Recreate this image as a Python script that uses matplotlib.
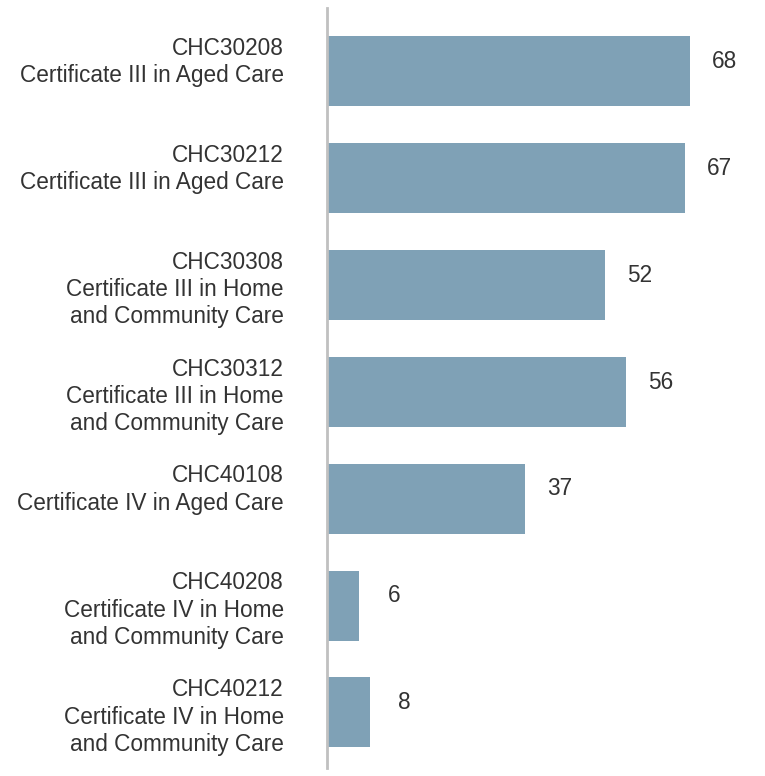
import matplotlib
matplotlib.use("Agg")
import matplotlib.pyplot as plt

plt.rcParams['font.family'] = ['Liberation Sans', 'DejaVu Sans']

codes = ['CHC30208', 'CHC30212', 'CHC30308', 'CHC30312', 'CHC40108', 'CHC40208', 'CHC40212']
names = ['Certificate III in Aged Care',
         'Certificate III in Aged Care',
         'Certificate III in Home\nand Community Care',
         'Certificate III in Home\nand Community Care',
         'Certificate IV in Aged Care',
         'Certificate IV in Home\nand Community Care',
         'Certificate IV in Home\nand Community Care']
values = [68, 67, 52, 56, 37, 6, 8]

# two-line labels sit as if they had an empty third line
labels = []
for c, n in zip(codes, names):
    lab = c + '\n' + n
    if '\n' not in n:
        lab += '\n '
    labels.append(lab)
pos = list(range(len(values)))

fig = plt.figure(figsize=(7.65, 7.76), dpi=100)
ax = fig.add_axes([327 / 765, 8 / 776, 1 - 327 / 765, 760 / 776])

bar_color = '#7fa1b6'
text_color = '#333333'

ax.barh(pos, values, height=0.655, color=bar_color)

for p, v in zip(pos, values):
    ax.annotate(str(v), (v, p), xytext=(25, 7), textcoords='offset points',
                ha='center', va='center', fontsize=16.3, color=text_color)

ax.set_xlim(0, 82.0)
ax.set_ylim(6.52, -0.59)
ax.set_yticks(pos)
ax.set_yticklabels(labels, fontsize=16.3, color=text_color)
for t in ax.get_yticklabels():
    t.set_linespacing(1.24)
ax.tick_params(axis='y', length=0, pad=31)
ax.set_xticks([])

for s in ['top', 'right', 'bottom']:
    ax.spines[s].set_visible(False)
ax.spines['left'].set_color('#c0c0c0')
ax.spines['left'].set_linewidth(2)

fig.savefig('out.png', dpi=100)
